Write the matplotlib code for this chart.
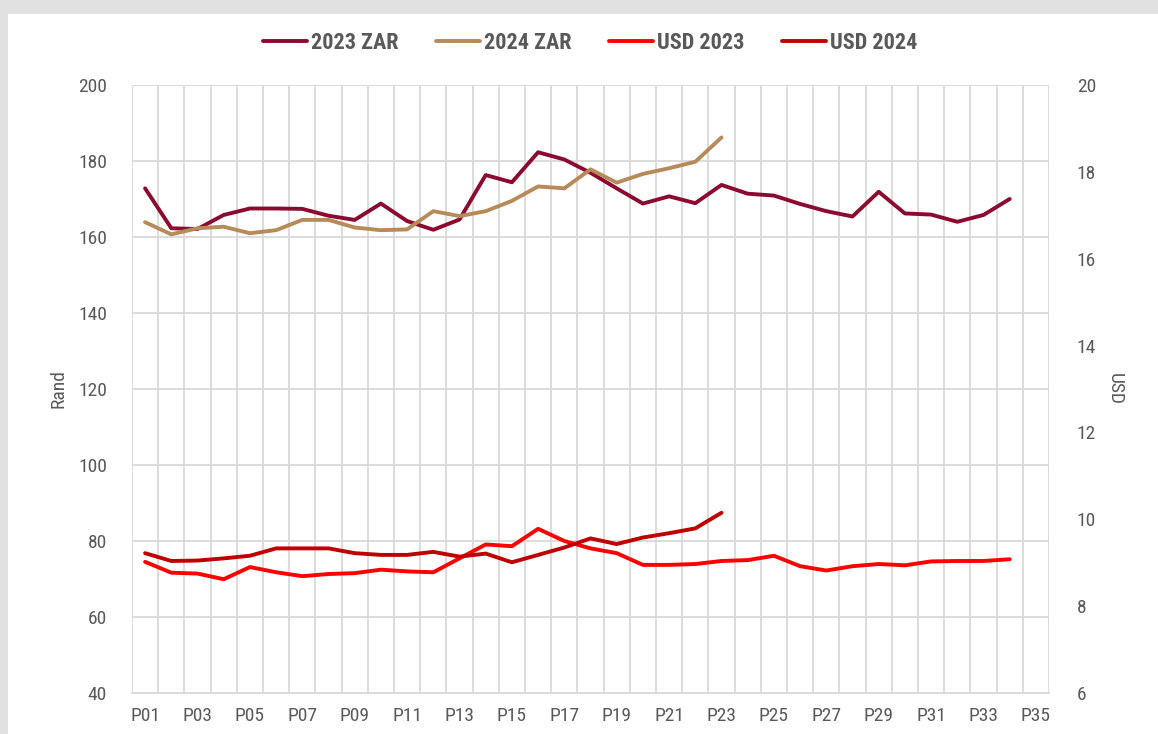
"""Rand vs USD price per period, 2023 and 2024, two y axes.

Writes out.png
"""

import numpy as np
import matplotlib
matplotlib.use("Agg")
import matplotlib.pyplot as plt
from matplotlib.patches import Rectangle

periods = [f"P{i:02d}" for i in range(1, 36)]

zar_2023 = [172.8, 162.3, 162.1, 165.8, 167.5, 167.5, 167.4, 165.6, 164.5, 168.8,
            164.2, 161.9, 164.6, 176.3, 174.4, 182.3, 180.4, 176.9, 172.8, 168.8,
            170.7, 168.9, 173.7, 171.4, 170.9, 168.7, 166.8, 165.4, 171.9, 166.2,
            165.9, 164.0, 165.8, 170.0]
zar_2024 = [163.9, 160.7, 162.3, 162.7, 161.0, 161.8, 164.5, 164.5, 162.5, 161.8,
            162.0, 166.8, 165.5, 166.8, 169.5, 173.3, 172.8, 177.8, 174.3, 176.6,
            178.1, 179.8, 186.2]
usd_2023 = [9.02, 8.77, 8.75, 8.62, 8.90, 8.78, 8.69, 8.74, 8.76, 8.84,
            8.80, 8.78, 9.10, 9.42, 9.38, 9.78, 9.50, 9.33, 9.22, 8.95,
            8.95, 8.97, 9.04, 9.06, 9.16, 8.92, 8.82, 8.92, 8.97, 8.94,
            9.03, 9.04, 9.04, 9.08]
usd_2024 = [9.22, 9.04, 9.05, 9.10, 9.16, 9.33, 9.33, 9.33, 9.22, 9.18,
            9.18, 9.25, 9.14, 9.21, 9.01, 9.18, 9.35, 9.56, 9.43, 9.58,
            9.68, 9.79, 10.15]

GREY = "#595959"
GRID = "#d9d9d9"
plt.rcParams["font.family"] = ["Roboto Condensed", "Archivo Narrow", "DejaVu Sans"]


def main():
    fig = plt.figure(figsize=(11.58, 7.34), dpi=100, facecolor="#e1e1e1")
    fig.patches.append(Rectangle((8 / 1158, 0), 1, 1 - 14 / 734, transform=fig.transFigure,
                                 facecolor="white", edgecolor="none", zorder=-10))

    ax = fig.add_axes([132 / 1158, 41 / 734, 917 / 1158, 608 / 734])
    ax.set_facecolor("none")
    ax2 = ax.twinx()

    x = np.arange(len(periods))
    l1, = ax.plot(x[:len(zar_2023)], zar_2023, color="#8c0a30", lw=2.8, label="2023 ZAR",
                  solid_capstyle="round", zorder=3)
    l2, = ax.plot(x[:len(zar_2024)], zar_2024, color="#b78a5a", lw=2.8, label="2024 ZAR",
                  solid_capstyle="round", zorder=3)
    l3, = ax2.plot(x[:len(usd_2023)], usd_2023, color="#ff0000", lw=2.8, label="USD 2023",
                   solid_capstyle="round")
    l4, = ax2.plot(x[:len(usd_2024)], usd_2024, color="#c00000", lw=2.8, label="USD 2024",
                   solid_capstyle="round")

    ax.set_xlim(-0.5, len(periods) - 0.5)
    ax.set_ylim(40, 200)
    ax.set_yticks(range(40, 201, 20))
    ax2.set_ylim(6, 20)
    ax2.set_yticks(range(6, 21, 2))

    ax.set_xticks(x[::2])
    ax.set_xticklabels(periods[::2])
    ax.set_xticks(np.arange(-0.5, len(periods), 1), minor=True)
    ax.grid(True, which="minor", axis="x", color=GRID, lw=1.3)
    ax.grid(True, which="major", axis="y", color=GRID, lw=1.3)
    ax.set_axisbelow(True)

    for a in (ax, ax2):
        for s in a.spines.values():
            s.set_visible(False)
        a.tick_params(which="both", length=0, colors=GREY, labelsize=14)
    ax.spines["bottom"].set_visible(True)
    ax.spines["bottom"].set_color(GRID)
    ax.spines["bottom"].set_linewidth(1.3)
    ax.tick_params(axis="y", pad=18)
    ax.tick_params(axis="x", pad=10)
    ax2.tick_params(axis="y", pad=20)

    ax.set_ylabel("Rand", color=GREY, fontsize=14, labelpad=8)
    ax2.set_ylabel("USD", color=GREY, fontsize=14, rotation=270, labelpad=20)

    fig.legend(handles=[l1, l2, l3, l4], loc="center", bbox_to_anchor=(590 / 1158, 1 - 43 / 734),
               ncol=4, frameon=False, handlelength=2.0, handletextpad=0.15,
               columnspacing=1.7, labelcolor=GREY, prop={"weight": "bold", "size": 16})

    fig.savefig("out.png", dpi=100, facecolor=fig.get_facecolor())


if __name__ == "__main__":
    main()
